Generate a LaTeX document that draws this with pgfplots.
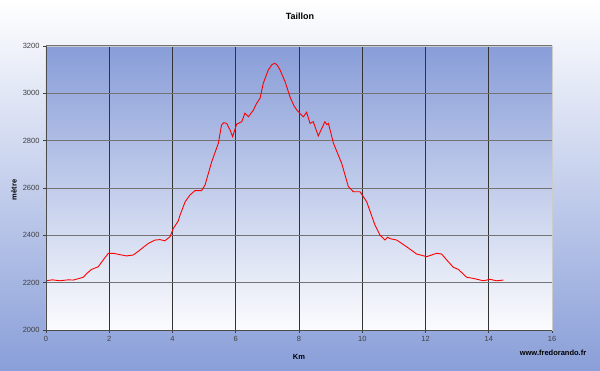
\documentclass[border=0pt]{standalone}
\usepackage{pgfplots}
\pgfplotsset{compat=1.18}
\usepackage{fontspec}
\setmainfont{Liberation Sans}
\definecolor{bgblue}{RGB}{138,159,217}
\definecolor{plotblue}{RGB}{136,157,216}
\begin{document}
\begin{tikzpicture}[x=1pt,y=1pt]
\shade[top color=white, bottom color=bgblue] (0,0) rectangle (600,370);
\begin{axis}[
  at={(46pt,40pt)}, anchor=south west,
  scale only axis, width=506pt, height=284pt,
  xmin=0, xmax=16, ymin=2000, ymax=3200,
  xtick={0,2,...,16}, ytick={2000,2200,...,3200},
  /pgf/number format/1000 sep={},
  /pgf/number format/assume math mode=true,
  tick label style={font=\fontsize{7.5}{8}\selectfont, text=black!75},
  tick align=outside, tick pos=left, major tick length=3pt,
  tick style={black!75, line width=0.6pt},
  axis background/.style={top color=plotblue, bottom color=white!97!plotblue},
  grid=major,
  x grid style={black!80, line width=0.6pt},
  y grid style={black!55, line width=1pt},
  axis line style={draw=black!20},
  after end axis/.code={\draw[black!70, line width=0.7pt] (rel axis cs:0,1) -- (rel axis cs:0,0) -- (rel axis cs:1,0);},
]
\addplot[red, line width=0.9pt, no marks] table {
x y
0 2208
0.2 2212
0.44 2208
0.7 2212
0.86 2211
1.0 2216
1.18 2223
1.3 2240
1.44 2256
1.65 2267
1.81 2296
1.97 2324
2.13 2324
2.35 2318
2.55 2313
2.76 2317
2.97 2338
3.1 2352
3.24 2366
3.45 2380
3.6 2382
3.76 2377
3.92 2394
4.03 2430
4.18 2460
4.24 2486
4.40 2542
4.55 2570
4.71 2589
4.92 2589
5.03 2613
5.24 2711
5.45 2789
5.55 2866
5.62 2876
5.71 2873
5.82 2845
5.90 2817
6.03 2870
6.19 2880
6.29 2916
6.40 2901
6.56 2930
6.66 2958
6.77 2980
6.87 3042
7.03 3099
7.15 3122
7.24 3127
7.32 3118
7.40 3099
7.56 3049
7.72 2983
7.85 2945
7.93 2930
8.08 2908
8.14 2901
8.24 2920
8.35 2873
8.45 2880
8.61 2820
8.72 2852
8.82 2880
8.88 2868
8.93 2873
9.09 2789
9.35 2704
9.56 2606
9.72 2584
9.93 2584
10.14 2542
10.40 2444
10.56 2401
10.72 2380
10.80 2392
10.88 2386
11.09 2380
11.40 2352
11.72 2321
12.04 2310
12.35 2324
12.51 2321
12.67 2296
12.88 2265
13.04 2256
13.30 2223
13.51 2218
13.83 2208
14.04 2214
14.25 2208
14.46 2211
};
\end{axis}
\node[font=\fontsize{9}{10}\selectfont\bfseries] at (300,354) {Taillon};
\node[font=\fontsize{7.5}{8}\selectfont\bfseries] at (299,13) {Km};
\node[font=\fontsize{7.5}{8}\selectfont\bfseries, rotate=90] at (14,180) {mètre};
\node[font=\fontsize{7.5}{8}\selectfont\bfseries] at (553,17) {www.fredorando.fr};
\end{tikzpicture}
\end{document}
